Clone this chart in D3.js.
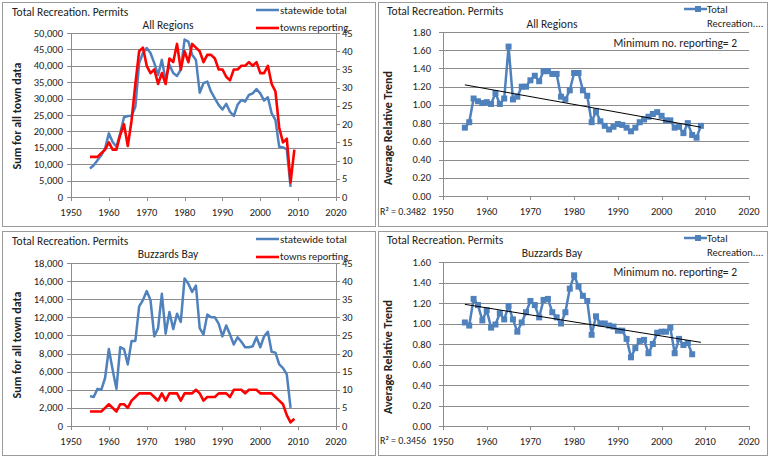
<!DOCTYPE html>
<html>
<head>
<meta charset="utf-8">
<script src="https://cdn.jsdelivr.net/npm/d3@7"></script>
<style>
  body { margin: 0; background: #fff; }
  svg text { font-family: Carlito, Calibri, Lato, "Liberation Sans", sans-serif; fill: #222; }
</style>
</head>
<body>
<svg id="chart" width="770" height="459"></svg>
<script>
// ---- data ----
const yearsAll = d3.range(1955, 2010);
const allTotal = [8700, 9700, 11200, 12700, 14800, 19400, 16800, 15300, 19400, 24300,
  24700, 24800, 27500, 40800, 43900, 45400, 43900, 40800, 37200, 41800,
  35700, 40300, 37800, 36900, 38800, 48000, 47400, 43400, 41800, 31800,
  34700, 35200, 32100, 30100, 28100, 26700, 28400, 26000, 24700, 28100,
  29600, 29100, 31100, 31600, 32900, 31600, 29400, 30400, 25500, 23500,
  15300, 15100, 14500, 3100, null];
const allTowns = [11, 11, 11, 12, 13, 15, 13, 13, 17, 20,
  14, 21, 31, 40, 41, 36, 34, 35, 31, 34,
  31, 38, 37, 42, 35, 40, 37, 42, 41, 40,
  37, 39, 39, 38, 35, 35, 33, 32, 35, 35,
  36, 36, 37, 36, 37, 34, 34, 36, 31, 29,
  19, 15, 16, 4, 13];
const allTrend = [0.75, 0.81, 1.07, 1.04, 1.02, 1.03, 1.01, 1.13, 1.01, 1.07,
  1.64, 1.06, 1.09, 1.20, 1.20, 1.27, 1.32, 1.26, 1.37, 1.37,
  1.34, 1.34, 1.09, 1.06, 1.16, 1.35, 1.35, 1.16, 1.10, 0.81,
  0.93, 0.82, 0.77, 0.73, 0.76, 0.79, 0.78, 0.75, 0.71, 0.75,
  0.81, 0.84, 0.87, 0.90, 0.92, 0.88, 0.83, 0.83, 0.75, 0.76,
  0.69, 0.80, 0.67, 0.64, 0.77];
const allFit = [[1955, 1.22], [2009, 0.755]];

const bbTotal = [3300, 3200, 4100, 4000, 5300, 8500, 6200, 4100, 8700, 8500,
  6800, 9400, 9400, 13200, 13900, 14900, 13900, 9900, 10800, 14600,
  10200, 12600, 10700, 12400, 11500, 16300, 15700, 14800, 15500, 10800,
  10100, 12300, 12000, 12000, 11300, 9900, 11100, 10100, 9000, 9800,
  9300, 8700, 8700, 8800, 9800, 8700, 9900, 10400, 8200, 8100,
  6800, 6400, 5700, 2000, null];
const bbTowns = [4, 4, 4, 4, 5, 6, 5, 4, 6, 6,
  5, 7, 8, 9, 9, 9, 9, 8, 7, 9,
  7, 9, 9, 9, 7, 9, 9, 9, 10, 9,
  7, 8, 8, 8, 9, 9, 9, 8, 10, 10,
  10, 9, 10, 10, 10, 9, 9, 9, 9, 8,
  7, 6, 3, 1, 2];
const yearsBbTrend = d3.range(1955, 2008);
const bbTrend = [1.01, 0.98, 1.24, 1.18, 1.03, 1.13, 0.96, 0.99, 1.10, 1.04,
  1.17, 1.04, 0.92, 1.01, 1.11, 1.22, 1.18, 1.06, 1.23, 1.24,
  1.11, 1.06, 1.00, 1.11, 1.34, 1.47, 1.36, 1.27, 1.22, 0.89,
  1.07, 1.00, 1.00, 0.98, 0.97, 0.93, 0.93, 0.85, 0.67, 0.76,
  0.83, 0.84, 0.71, 0.80, 0.91, 0.92, 0.92, 0.96, 0.71, 0.85,
  0.79, 0.81, 0.70];
const bbFit = [[1955, 1.187], [2009, 0.816]];

const xTicks = d3.range(1950, 2021, 10);
const blue = "#4f81bd", red = "#ff0000", grid = "#8c8c8c";

const svg = d3.select("#chart");
const fmtK = d3.format(",");
const fmt2 = d3.format(".2f");

function frame(x, y, w, h) {
  svg.append("rect").attr("x", x + 0.5).attr("y", y + 0.5).attr("width", w).attr("height", h)
    .attr("fill", "#fff").attr("stroke", "#9a9a9a").attr("stroke-width", 1);
}

function axesCommon(g, x, y, yTicks, yFmt, labelX) {
  const [x0, x1] = x.range();
  const [yb, yt] = y.range();
  // gridlines
  g.selectAll(".grid").data(yTicks).join("line")
    .attr("x1", x0).attr("x2", x1)
    .attr("y1", d => Math.round(y(d)) + 0.5).attr("y2", d => Math.round(y(d)) + 0.5)
    .attr("stroke", grid).attr("stroke-width", 1);
  // left axis
  g.append("line").attr("x1", x0 + 0.5).attr("x2", x0 + 0.5).attr("y1", yt).attr("y2", yb)
    .attr("stroke", grid);
  g.selectAll(".ytk").data(yTicks).join("line")
    .attr("x1", x0 - 4).attr("x2", x0)
    .attr("y1", d => Math.round(y(d)) + 0.5).attr("y2", d => Math.round(y(d)) + 0.5)
    .attr("stroke", grid);
  g.selectAll(".ylab").data(yTicks).join("text")
    .attr("x", labelX).attr("y", d => y(d) + 3.5)
    .attr("text-anchor", "end").attr("font-size", 10.5).text(yFmt);
  // bottom axis ticks + labels
  g.selectAll(".xtk").data(xTicks).join("line")
    .attr("x1", d => Math.round(x(d)) + 0.5).attr("x2", d => Math.round(x(d)) + 0.5)
    .attr("y1", yb).attr("y2", yb + 4).attr("stroke", grid);
  g.selectAll(".xlab").data(xTicks).join("text")
    .attr("x", d => x(d)).attr("y", yb + 19)
    .attr("text-anchor", "middle").attr("font-size", 10.5).text(d => d);
}

function sumPanel(ox, oy, region, yMax, yStep, total, towns, topY) {
  frame(ox + 2, oy + 2, 373, 224);
  const g = svg.append("g");
  const x = d3.scaleLinear().domain([1950, 2020]).range([ox + 71, ox + 336]);
  const y = d3.scaleLinear().domain([0, yMax]).range([oy + 197, oy + topY]);
  const y2 = d3.scaleLinear().domain([0, 45]).range([oy + 197, oy + topY]);
  axesCommon(g, x, y, d3.range(0, yMax + 1, yStep), fmtK, ox + 63);
  // right axis
  g.append("line").attr("x1", ox + 336.5).attr("x2", ox + 336.5).attr("y1", oy + topY).attr("y2", oy + 197)
    .attr("stroke", grid);
  const r = d3.range(0, 46, 5);
  g.selectAll(".rtk").data(r).join("line")
    .attr("x1", ox + 336).attr("x2", ox + 340)
    .attr("y1", d => Math.round(y2(d)) + 0.5).attr("y2", d => Math.round(y2(d)) + 0.5)
    .attr("stroke", grid);
  g.selectAll(".rlab").data(r).join("text")
    .attr("x", ox + 342).attr("y", d => y2(d) + 3.5)
    .attr("font-size", 10.5).text(d => d);

  const lineT = d3.line().defined(d => d[1] != null).x(d => x(d[0])).y(d => y(d[1]));
  const lineR = d3.line().defined(d => d[1] != null).x(d => x(d[0])).y(d => y2(d[1]));
  const dataT = yearsAll.map((yr, i) => [yr, total[i]]);
  const dataR = yearsAll.map((yr, i) => [yr, towns[i]]);
  g.append("path").datum(dataT).attr("d", lineT)
    .attr("fill", "none").attr("stroke", blue).attr("stroke-width", 2.5).attr("stroke-linejoin", "round");
  g.append("path").datum(dataR).attr("d", lineR)
    .attr("fill", "none").attr("stroke", red).attr("stroke-width", 2.6).attr("stroke-linejoin", "round");

  // titles
  g.append("text").attr("x", ox + 12).attr("y", oy + 16).attr("font-size", 11.5).text("Total Recreation. Permits");
  g.append("text").attr("x", ox + 168).attr("y", oy + 29).attr("text-anchor", "middle")
    .attr("font-size", 11.5).text(region);
  g.append("text").attr("transform", `translate(${ox + 21},${oy + 116}) rotate(-90)`)
    .attr("text-anchor", "middle").attr("font-size", 12).attr("font-weight", "bold").attr("fill", "#000")
    .text("Sum for all town data");
  // legend
  g.append("line").attr("x1", ox + 256).attr("x2", ox + 279).attr("y1", oy + 10).attr("y2", oy + 10)
    .attr("stroke", blue).attr("stroke-width", 2.5);
  g.append("text").attr("x", ox + 280).attr("y", oy + 14).attr("font-size", 11).text("statewide total");
  g.append("line").attr("x1", ox + 256).attr("x2", ox + 279).attr("y1", oy + 28).attr("y2", oy + 28)
    .attr("stroke", red).attr("stroke-width", 2.6);
  g.append("text").attr("x", ox + 280).attr("y", oy + 31).attr("font-size", 10.5).text("towns reporting");
}

function trendPanel(ox, oy, region, yMax, years, vals, fit, r2, topY, botY) {
  frame(ox + 378, oy + 2, 389, 224);
  const g = svg.append("g");
  const x = d3.scaleLinear().domain([1950, 2020]).range([ox + 443, ox + 749]);
  const y = d3.scaleLinear().domain([0, yMax]).range([oy + botY, oy + topY]);
  axesCommon(g, x, y, d3.range(0, yMax + 0.001, 0.2), fmt2, ox + 431);
  const data = years.map((yr, i) => [yr, vals[i]]);
  const line = d3.line().x(d => x(d[0])).y(d => y(d[1]));
  g.append("path").datum(data).attr("d", line)
    .attr("fill", "none").attr("stroke", blue).attr("stroke-width", 2.5).attr("stroke-linejoin", "round");
  g.selectAll(".mk").data(data).join("rect")
    .attr("x", d => x(d[0]) - 3).attr("y", d => y(d[1]) - 3)
    .attr("width", 6).attr("height", 6).attr("fill", blue);
  g.append("path").datum(fit).attr("d", line)
    .attr("fill", "none").attr("stroke", "#000").attr("stroke-width", 1);

  g.append("text").attr("x", ox + 387).attr("y", oy + 15).attr("font-size", 11.5).text("Total Recreation. Permits");
  g.append("text").attr("x", ox + 552).attr("y", oy + 28).attr("text-anchor", "middle")
    .attr("font-size", 11.5).text(region);
  g.append("text").attr("x", ox + 737).attr("y", oy + 47).attr("text-anchor", "end")
    .attr("font-size", 11.5).text("Minimum no. reporting= 2");
  g.append("text").attr("transform", `translate(${ox + 392},${oy + 128}) rotate(-90)`)
    .attr("text-anchor", "middle").attr("font-size", 12).attr("font-weight", "bold").attr("fill", "#000")
    .text("Average Relative Trend");
  g.append("text").attr("x", ox + 380).attr("y", oy + 215).attr("font-size", 10)
    .text("R² = " + r2);
  // legend
  g.append("line").attr("x1", ox + 684).attr("x2", ox + 707).attr("y1", oy + 9).attr("y2", oy + 9)
    .attr("stroke", blue).attr("stroke-width", 2.5);
  g.append("rect").attr("x", ox + 695).attr("y", oy + 6).attr("width", 6).attr("height", 6).attr("fill", blue);
  g.append("text").attr("x", ox + 707).attr("y", oy + 13).attr("font-size", 10.5).text("Total");
  g.append("text").attr("x", ox + 707).attr("y", oy + 27).attr("font-size", 10.5).text("Recreation....");
}

sumPanel(0, 0, "All Regions", 50000, 5000, allTotal, allTowns, 33);
trendPanel(0, 0, "All Regions", 1.8, yearsAll, allTrend, allFit, "0.3482", 32, 196);
sumPanel(0, 229, "Buzzards Bay", 18000, 2000, bbTotal, bbTowns, 34);
trendPanel(0, 229, "Buzzards Bay", 1.6, yearsBbTrend, bbTrend, bbFit, "0.3456", 33, 197);
</script>
</body>
</html>
